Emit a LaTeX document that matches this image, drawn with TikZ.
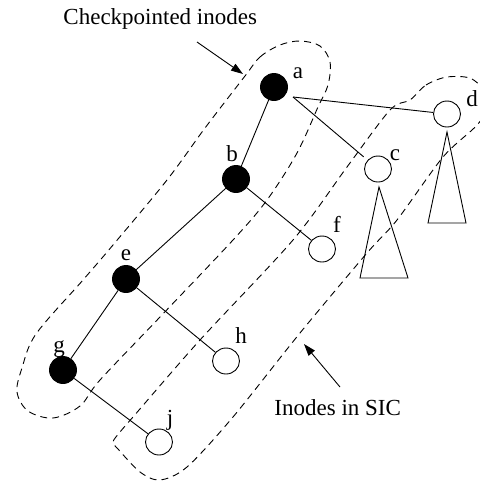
\documentclass[tikz,border=0pt]{standalone}
\usepackage{fontspec}
\setmainfont{Liberation Serif}
\usetikzlibrary{arrows.meta,shapes.geometric}
\begin{document}
\begin{tikzpicture}[x=1pt,y=-1pt,line width=0.9pt,
  full/.style={circle,fill=black,draw=black,minimum size=27pt,inner sep=0pt},
  open/.style={ellipse,draw=black,fill=white,minimum width=27pt,minimum height=26pt,inner sep=0pt},
  lbl/.style={anchor=base,inner sep=0pt,font=\fontsize{23}{27}\selectfont},
  txt/.style={anchor=base west,inner sep=0pt,font=\fontsize{23}{27}\selectfont},
  loopline/.style={dash pattern=on 7pt off 5pt},
  arr/.style={-{Triangle[length=12pt,width=8pt]}}]
\useasboundingbox (0,0) rectangle (480,483);
\clip (0,0) rectangle (480,483);

% dashed regions
\draw[loopline] plot[smooth cycle,tension=0.55] coordinates {
  (245,76) (260,57) (280,45) (300,41) (320,46) (330,62) (328,85) (318,107)
  (297,153) (267,200) (233,240) (160,317) (100,380) (80,406) (53,418)
  (28,411) (17,392) (22,368) (36,334) (83,280) (113,245) (167,180) (205,128)};
\draw[loopline] plot[smooth cycle,tension=0.5] coordinates {
  (410,100) (426,85) (447,77) (472,79) (490,100) (478,124) (443,157)
  (397,220) (367,253) (300,333) (233,417) (187,467) (160,480) (140,472)
  (118,449) (113,442) (120,432) (133,417) (200,340) (293,240) (347,167) (390,110)};

% nodes
\node[full] (a) at (274,87) {};
\node[full] (b) at (236,179) {};
\node[full] (e) at (126,279) {};
\node[full] (g) at (63,370) {};
\node[open] (c) at (378,169) {};
\node[open] (d) at (447,114) {};
\node[open] (f) at (322,249) {};
\node[open] (h) at (226,361) {};
\node[open] (j) at (159,442) {};

% labels
\node[lbl] (la) at (298,78) {a};
\node[lbl] (lb) at (232,161) {b};
\node[lbl] (lc) at (395,160) {c};
\node[lbl] (ld) at (472,106) {d};
\node[lbl] (le) at (126,260) {e};
\node[lbl] (lf) at (337,232) {f};
\node[lbl] (lg) at (59,352) {g};
\node[lbl] (lh) at (241,343) {h};
\node[lbl] (lj) at (170,425) {j};

% edges
\coordinate (ap) at (293,97);
\draw (a) -- (b);
\draw (ap) -- (d);
\draw[shorten >=5pt] (ap) -- (c);
\draw (b) -- (e);
\draw (b) -- (f);
\draw (e) -- (g);
\draw (e) -- (h);
\draw (g) -- (j);

% subtrees
\coordinate (tc) at (379,187);
\coordinate (tc1) at (360,278);
\coordinate (tc2) at (408,278);
\draw (tc) -- (tc1) -- (tc2) -- cycle;
\coordinate (td) at (447,132);
\coordinate (td1) at (428,223);
\coordinate (td2) at (466,223);
\draw (td) -- (td1) -- (td2) -- cycle;

% captions
\node[txt] (t1) at (63,24) {Checkpointed inodes};
\node[txt] (t2) at (274,415) {Inodes in SIC};
\coordinate (s1) at (197,42);
\coordinate (e1) at (243,74);
\draw[arr] (s1) -- (e1);
\coordinate (s2) at (340,387);
\coordinate (e2) at (304,344);
\draw[arr] (s2) -- (e2);
\end{tikzpicture}
\end{document}
